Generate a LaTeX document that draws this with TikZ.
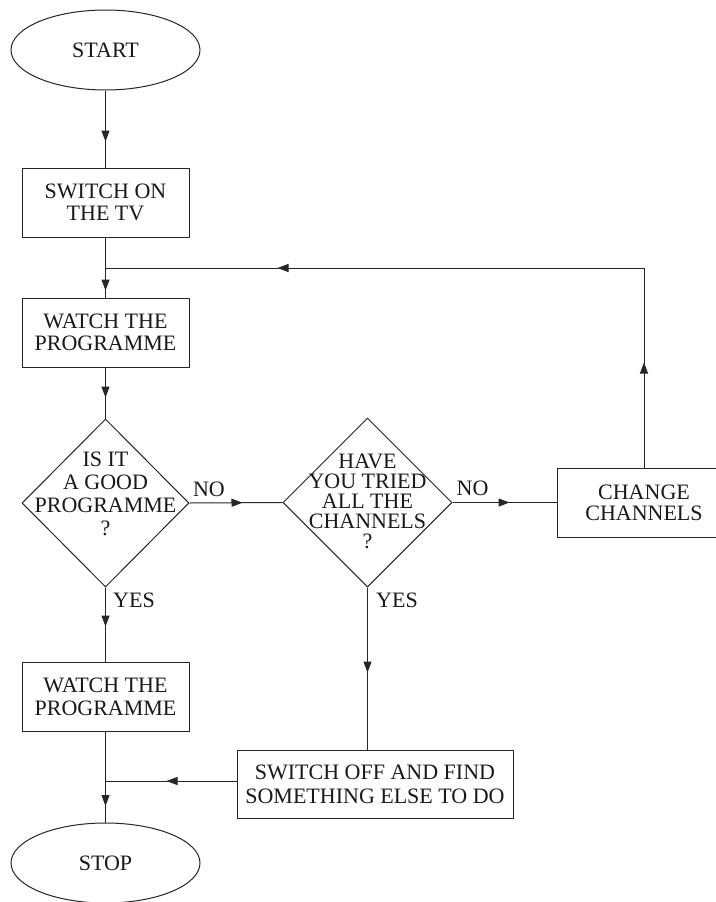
\documentclass[tikz,border=0pt]{standalone}
\usepackage{fontspec}
\setmainfont{Liberation Serif}
\usetikzlibrary{shapes.geometric,arrows.meta,decorations.markings}

\begin{document}
\begin{tikzpicture}[x=1pt,y=-1pt,
  every node/.style={font=\fontsize{22}{22}\selectfont, text=black!90},
  line/.style={draw=black!85, line width=1pt},
  arrowat/.style={postaction={decorate}, decoration={markings,
      mark=at position #1 with {\arrow{Triangle[length=11pt,width=8pt]}}}},
  terminal/.style={ellipse, line, minimum width=189pt, minimum height=80pt, inner sep=0pt},
  process/.style={rectangle, line, minimum width=167pt, minimum height=69pt, inner sep=0pt, align=center},
  decision/.style={diamond, line, minimum width=167pt, minimum height=168pt, inner sep=0pt},
  dtext/.style={align=center, inner sep=0pt},
  tag/.style={inner sep=0pt}
]
\useasboundingbox (0,0) rectangle (715,902);

% nodes
\node[terminal] (start) at (105.5,50) {START};
\node[process] (on) at (105.5,202.5) {SWITCH ON\\THE TV};
\node[process, font=\fontsize{22}{22.5}\selectfont] (w1) at (105.5,332.5) {WATCH THE\\PROGRAMME};
\node[decision] (d1) at (105.5,503) {};
\node[dtext, font=\fontsize{22}{23}\selectfont] (d1t) at (105.5,494) {IS IT\\A GOOD\\PROGRAMME\\?};
\node[decision, minimum width=169pt, minimum height=169pt] (d2) at (367.5,502.5) {};
\node[dtext, font=\fontsize{22}{20}\selectfont] (d2t) at (367.5,501.5) {HAVE\\YOU TRIED\\ALL THE\\CHANNELS\\?};
\node[process, minimum width=174pt, font=\fontsize{22}{21}\selectfont] (ch) at (644,502.5) {CHANGE\\CHANNELS};
\node[process, font=\fontsize{22}{22.5}\selectfont] (w2) at (105.5,697) {WATCH THE\\PROGRAMME};
\node[process, minimum width=276pt, minimum height=68pt, font=\fontsize{22}{24}\selectfont] (off) at (375,784) {SWITCH OFF AND FIND\\SOMETHING ELSE TO DO};
\node[terminal] (stop) at (105.5,863) {STOP};

% branch labels
\node[tag] (no1) at (209,489.5) {NO};
\node[tag] (no2) at (472.5,488.5) {NO};
\node[tag] (yes1) at (134,600.5) {YES};
\node[tag] (yes2) at (397,600.5) {YES};

% junction points on the main trunk
\coordinate (ja) at (105.5,268);
\coordinate (jb) at (105.5,781);

% connectors
\draw[line, arrowat=51pt] (start.south) -- (on.north);
\draw[line, arrowat=53pt] (on.south) -- (w1.north);
\draw[line, arrowat=30pt] (w1.south) -- (d1.north);
\draw[line, arrowat=53pt] (d1.east) -- (d2.west);
\draw[line, arrowat=57pt] (d2.east) -- (ch.west);
\draw[line, postaction={decorate}, decoration={markings,
      mark=at position 105pt with {\arrow{Triangle[length=11pt,width=8pt]}},
      mark=at position 566pt with {\arrow{Triangle[length=11pt,width=8pt]}}}]
  (ch.north) |- (ja);
\draw[line, arrowat=39pt] (d1.south) -- (w2.north);
\draw[line, arrowat=85pt] (d2.south) -- (d2.south |- off.north);
\draw[line, arrowat=74pt] (w2.south) -- (stop.north);
\draw[line, arrowat=70pt] (jb -| off.west) -- (jb);
\end{tikzpicture}
\end{document}
